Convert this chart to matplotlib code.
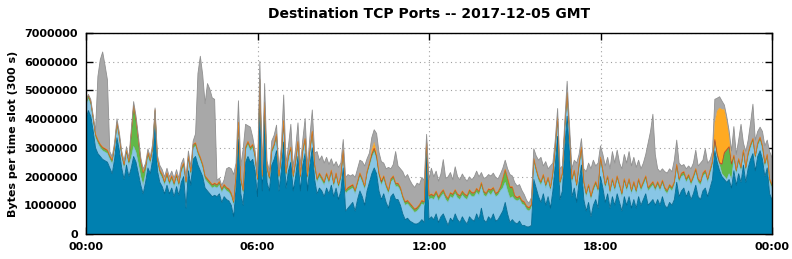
import numpy as np
import matplotlib

matplotlib.use('Agg')
import matplotlib.pyplot as plt
from matplotlib.ticker import FuncFormatter

# 5-minute slots over one day, values in millions of bytes per slot
# (one line per hour, 12 slots each, last line = 24:00)
dark_blue = [
    4.0, 4.3, 4.1, 3.6, 3.0, 2.8, 2.7, 2.6, 2.55, 2.5, 2.3, 2.1,
    2.6, 3.35, 2.9, 2.3, 1.9, 2.4, 2.0, 2.3, 2.7, 2.5, 2.1, 1.7,
    1.4, 1.8, 2.3, 2.1, 2.6, 3.85, 2.2, 1.8, 1.65, 1.4, 1.7, 1.4,
    1.6, 1.3, 1.65, 1.35, 1.8, 2.0, 0.9, 2.2, 1.7, 2.6, 2.7, 2.4,
    2.2, 2.0, 1.6, 1.5, 1.4, 1.3, 1.35, 1.3, 1.4, 1.1, 1.3, 1.2,
    1.15, 1.0, 0.6, 1.6, 3.3, 1.4, 1.0, 2.5, 2.7, 2.5, 2.6, 2.2,
    1.3, 4.9, 1.5, 4.2, 1.8, 1.5, 2.4, 2.6, 2.9, 1.5, 2.2, 3.2,
    1.6, 2.2, 2.5, 1.5, 2.0, 2.7, 1.5, 2.4, 2.8, 1.5, 2.4, 3.0,
    1.9, 1.4, 1.6, 1.5, 1.3, 1.6, 1.4, 1.7, 1.3, 1.6, 1.2, 1.5,
    2.3, 0.8, 0.9, 1.0, 1.1, 0.8, 1.2, 1.5, 1.3, 1.0, 1.5, 1.8,
    2.1, 2.3, 2.1, 1.5, 1.2, 1.4, 1.1, 0.9, 1.3, 1.4, 1.2, 1.2,
    1.0, 0.7, 0.5, 0.55, 0.45, 0.4, 0.35, 0.35, 0.4, 0.5, 0.4, 2.8,
    0.5, 0.6, 0.5, 0.7, 0.4, 0.6, 0.7, 0.5, 0.3, 0.55, 0.45, 0.7,
    0.5, 0.4, 0.6, 0.45, 0.35, 0.6, 0.5, 0.45, 0.7, 0.5, 0.9, 0.5,
    0.4, 0.6, 0.5, 0.7, 0.45, 0.5, 0.65, 0.8, 1.1, 0.7, 0.4, 0.5,
    0.4, 0.35, 0.45, 0.3, 0.3, 0.25, 0.25, 0.3, 1.9, 1.6, 1.3, 1.1,
    1.4, 1.0, 1.3, 0.9, 1.5, 2.4, 3.4, 1.2, 1.5, 3.0, 4.1, 2.8,
    1.3, 1.6, 1.1, 1.8, 2.4, 1.2, 0.8, 1.1, 0.6, 1.0, 1.2, 0.9,
    2.0, 1.6, 1.1, 1.4, 0.9, 1.3, 1.0, 1.4, 1.1, 0.8, 1.3, 1.0,
    1.3, 0.9, 1.2, 0.9, 1.3, 1.0, 1.2, 1.4, 1.0, 1.1, 1.2, 1.0,
    1.2, 1.0, 1.3, 1.0, 0.9, 1.1, 1.0, 1.2, 1.8, 1.3, 1.5, 1.6,
    1.3, 1.5, 1.2, 1.4, 1.7, 1.3, 1.2, 1.5, 1.6, 1.3, 1.6, 1.9,
    2.9, 2.5, 2.2, 2.0, 1.9, 1.8, 1.9, 1.6, 2.2, 1.7, 2.1, 1.8,
    2.4, 1.8, 2.3, 2.6, 2.8, 2.2, 2.7, 2.9, 2.6, 2.0, 2.3, 1.4,
    1.2,
]

light_blue = [
    0.45, 0.4, 0.4, 0.35, 0.35, 0.35, 0.3, 0.3, 0.3, 0.3, 0.3, 0.35,
    0.35, 0.4, 0.4, 0.35, 0.4, 0.4, 0.4, 0.35, 0.35, 0.35, 0.35, 0.3,
    0.3, 0.3, 0.4, 0.35, 0.3, 0.35, 0.3, 0.3, 0.3, 0.3, 0.3, 0.3,
    0.3, 0.35, 0.3, 0.3, 0.35, 0.35, 0.8, 0.4, 0.35, 0.4, 0.35, 0.35,
    0.35, 0.3, 0.3, 0.3, 0.3, 0.3, 0.3, 0.3, 0.3, 0.35, 0.3, 0.3,
    0.3, 0.3, 0.4, 0.35, 0.45, 0.4, 0.4, 0.4, 0.4, 0.4, 0.4, 0.4,
    0.5, 0.35, 0.4, 0.25, 0.4, 0.35, 0.4, 0.4, 0.45, 0.4, 0.4, 0.6,
    0.4, 0.4, 0.4, 0.4, 0.4, 0.4, 0.4, 0.4, 0.4, 0.4, 0.4, 0.45,
    0.4, 0.4, 0.4, 0.35, 0.4, 0.4, 0.35, 0.4, 0.35, 0.4, 0.4, 0.4,
    0.5, 0.6, 0.6, 0.55, 0.5, 0.6, 0.5, 0.5, 0.5, 0.55, 0.55, 0.55,
    0.55, 0.55, 0.5, 0.5, 0.5, 0.5, 0.5, 0.5, 0.5, 0.5, 0.45, 0.45,
    0.5, 0.5, 0.5, 0.5, 0.5, 0.45, 0.4, 0.45, 0.5, 0.55, 0.6, 0.4,
    0.7, 0.65, 0.7, 0.65, 0.75, 0.7, 0.7, 0.7, 0.8, 0.75, 0.8, 0.7,
    0.75, 0.8, 0.75, 0.8, 0.85, 0.8, 0.8, 0.85, 0.75, 0.85, 0.75, 0.85,
    0.9, 0.85, 0.85, 0.8, 0.85, 0.85, 0.85, 0.8, 0.7, 0.8, 0.85, 0.8,
    0.8, 0.8, 0.75, 0.75, 0.7, 0.6, 0.55, 0.6, 0.6, 0.55, 0.55, 0.6,
    0.55, 0.6, 0.55, 0.6, 0.5, 0.5, 0.6, 0.5, 0.5, 0.6, 0.7, 0.6,
    0.5, 0.5, 0.5, 0.5, 0.5, 0.5, 0.5, 0.5, 0.6, 0.5, 0.5, 0.55,
    0.55, 0.5, 0.5, 0.5, 0.5, 0.5, 0.5, 0.5, 0.5, 0.5, 0.5, 0.5,
    0.5, 0.5, 0.5, 0.5, 0.5, 0.5, 0.5, 0.5, 0.5, 0.5, 0.5, 0.5,
    0.5, 0.5, 0.45, 0.5, 0.5, 0.5, 0.5, 0.5, 0.5, 0.5, 0.5, 0.45,
    0.5, 0.45, 0.5, 0.5, 0.45, 0.5, 0.5, 0.5, 0.5, 0.5, 0.5, 0.5,
    0.3, 0.2, 0.2, 0.1, 0.1, 0.1, 0.2, 0.3, 0.4, 0.4, 0.4, 0.4,
    0.4, 0.4, 0.4, 0.4, 0.4, 0.4, 0.35, 0.35, 0.35, 0.35, 0.35, 0.4,
    0.4,
]

green = [
    0.08, 0.1, 0.08, 0.08, 0.08, 0.08, 0.08, 0.08, 0.08, 0.08, 0.08, 0.08,
    0.08, 0.1, 0.08, 0.08, 0.08, 0.08, 0.08, 0.8, 1.4, 1.1, 0.8, 0.5,
    0.4, 0.2, 0.1, 0.08, 0.08, 0.08, 0.08, 0.08, 0.08, 0.08, 0.08, 0.08,
    0.08, 0.08, 0.08, 0.08, 0.08, 0.08, 0.08, 0.08, 0.08, 0.08, 0.08, 0.08,
    0.08, 0.08, 0.08, 0.08, 0.08, 0.08, 0.08, 0.08, 0.08, 0.08, 0.08, 0.08,
    0.08, 0.08, 0.08, 0.08, 0.1, 0.08, 0.08, 0.08, 0.08, 0.08, 0.08, 0.08,
    0.08, 0.1, 0.08, 0.1, 0.08, 0.08, 0.08, 0.08, 0.08, 0.08, 0.08, 0.1,
    0.08, 0.08, 0.08, 0.08, 0.08, 0.08, 0.08, 0.08, 0.08, 0.08, 0.08, 0.08,
    0.08, 0.08, 0.08, 0.08, 0.08, 0.08, 0.08, 0.08, 0.08, 0.08, 0.08, 0.08,
    0.08, 0.08, 0.08, 0.08, 0.08, 0.08, 0.08, 0.08, 0.08, 0.08, 0.08, 0.08,
    0.1, 0.1, 0.08, 0.08, 0.08, 0.08, 0.08, 0.08, 0.08, 0.08, 0.08, 0.08,
    0.08, 0.08, 0.08, 0.08, 0.08, 0.08, 0.08, 0.08, 0.08, 0.08, 0.08, 0.08,
    0.1, 0.1, 0.1, 0.1, 0.1, 0.1, 0.1, 0.1, 0.1, 0.1, 0.1, 0.1,
    0.1, 0.1, 0.1, 0.1, 0.1, 0.1, 0.1, 0.1, 0.1, 0.1, 0.1, 0.1,
    0.08, 0.08, 0.15, 0.08, 0.08, 0.08, 0.1, 0.3, 0.4, 0.4, 0.35, 0.3,
    0.1, 0.08, 0.08, 0.08, 0.08, 0.08, 0.08, 0.08, 0.08, 0.08, 0.08, 0.08,
    0.08, 0.08, 0.08, 0.08, 0.08, 0.08, 0.08, 0.08, 0.08, 0.08, 0.08, 0.08,
    0.08, 0.08, 0.08, 0.08, 0.08, 0.08, 0.08, 0.08, 0.08, 0.08, 0.08, 0.08,
    0.08, 0.08, 0.08, 0.08, 0.08, 0.08, 0.08, 0.08, 0.08, 0.08, 0.08, 0.08,
    0.08, 0.08, 0.08, 0.08, 0.08, 0.08, 0.08, 0.08, 0.08, 0.08, 0.08, 0.08,
    0.08, 0.08, 0.08, 0.08, 0.08, 0.08, 0.08, 0.08, 0.08, 0.08, 0.08, 0.08,
    0.08, 0.08, 0.08, 0.08, 0.08, 0.08, 0.08, 0.08, 0.08, 0.08, 0.08, 0.08,
    0.05, 0.05, 0.05, 0.3, 0.8, 1.0, 0.9, 0.5, 0.1, 0.08, 0.08, 0.08,
    0.08, 0.08, 0.08, 0.08, 0.08, 0.08, 0.08, 0.08, 0.08, 0.08, 0.08, 0.08,
    0.08,
]

red = [0.04] * 289

orange = [0.02] * 289
# 10:00 - 10:20 and the large block 22:00 - 22:35
orange_1000 = [0.15, 0.2, 0.12, 0.06, 0.08]
orange_2200 = [0.6, 1.5, 1.9, 1.9, 1.5, 1.0, 0.4, 0.1]

gray = [
    0.0, 0.0, 0.05, 0.05, 0.1, 2.2, 2.93, 3.3, 2.88, 2.43, 0.13, 0.1,
    0.1, 0.1, 0.1, 0.1, 0.1, 0.1, 0.1, 0.1, 0.1, 0.1, 0.1, 0.1,
    0.1, 0.1, 0.1, 0.1, 0.1, 0.05, 0.1, 0.15, 0.15, 0.15, 0.15, 0.15,
    0.15, 0.15, 0.15, 0.15, 0.15, 0.15, 0.15, 0.15, 0.15, 0.1, 0.3, 2.7,
    3.5, 3.1, 2.5, 3.3, 3.2, 3.0, 2.9, 0.13, 0.1, 0.1, 0.15, 0.63,
    0.73, 0.83, 0.93, 0.38, 0.73, 0.43, 1.43, 0.78, 0.53, 0.68, 0.23, 0.15,
    0.15, 0.6, 0.2, 0.63, 0.2, 0.2, 0.3, 0.3, 0.3, 0.2, 0.3, 0.88,
    0.3, 0.33, 0.78, 0.3, 0.43, 0.63, 0.33, 0.33, 0.68, 0.33, 0.43, 0.73,
    0.38, 0.93, 0.43, 0.73, 0.63, 0.53, 0.53, 0.38, 0.58, 0.38, 0.58, 0.43,
    0.35, 0.43, 0.43, 0.33, 0.33, 0.43, 0.43, 0.43, 0.58, 0.68, 0.43, 0.33,
    0.42, 0.44, 0.66, 0.67, 0.62, 0.43, 0.53, 0.78, 0.33, 0.38, 1.08, 0.58,
    0.63, 0.83, 0.83, 0.88, 0.78, 0.73, 0.73, 0.83, 0.68, 0.78, 0.73, 0.13,
    0.53, 0.88, 0.63, 0.68, 0.53, 0.63, 1.03, 0.58, 0.73, 0.68, 0.48, 0.78,
    0.58, 0.53, 0.58, 0.53, 0.48, 0.43, 0.43, 0.53, 0.58, 0.48, 0.33, 0.43,
    0.53, 0.48, 0.46, 0.48, 0.53, 0.43, 0.43, 0.33, 0.31, 0.31, 0.41, 0.36,
    0.43, 0.38, 0.38, 0.33, 0.23, 0.18, 0.13, 0.23, 0.33, 0.43, 0.58, 0.83,
    0.28, 0.78, 0.28, 0.73, 0.33, 0.23, 0.23, 0.43, 0.23, 0.18, 0.38, 0.23,
    0.33, 0.33, 0.73, 0.33, 0.28, 0.43, 0.73, 0.73, 0.93, 0.93, 0.53, 0.88,
    0.38, 0.53, 0.63, 0.63, 0.73, 0.93, 0.83, 0.88, 0.73, 0.83, 0.83, 0.83,
    0.93, 0.83, 0.83, 0.78, 0.63, 0.63, 0.63, 0.73, 1.53, 1.83, 2.33, 1.13,
    0.43, 0.53, 0.38, 0.53, 0.58, 0.53, 0.53, 0.73, 0.83, 0.53, 0.23, 0.23,
    0.33, 0.28, 0.43, 0.43, 0.63, 0.43, 0.63, 0.43, 0.73, 0.53, 0.33, 0.33,
    0.8, 0.44, 0.39, 0.29, 0.15, 0.15, 0.15, 0.35, 0.98, 0.53, 0.63, 1.48,
    0.23, 0.53, 0.43, 0.73, 1.18, 0.53, 0.38, 0.33, 0.48, 0.58, 0.48, 0.93,
    0.93,
]

orange[120:125] = orange_1000
orange[264:272] = orange_2200

hours = np.arange(len(dark_blue)) * 5 / 60.0

# (values, fill colour, outline colour, outline width)
layers = [
    (dark_blue, '#0080b0', '#006890', 0.6),
    (light_blue, '#88c6e6', '#78b8da', 0.4),
    (green, '#62b848', '#58a840', 0.4),
    (red, '#d04428', '#c04020', 0.5),
    (orange, '#ffaa22', '#e89a20', 0.3),
    (gray, '#a8a8a8', '#909090', 0.6),
]

plt.rcParams['font.family'] = 'DejaVu Sans'
plt.rcParams['font.weight'] = 'bold'

fig = plt.figure(figsize=(7.92, 2.59), dpi=100)
ax = fig.add_axes([86 / 792, 25 / 259, 686 / 792, 201 / 259])

base = np.zeros(len(hours))
for vals, face, edge, lw in layers:
    top = base + np.array(vals) * 1e6
    ax.fill_between(hours, base, top, facecolor=face, linewidth=0, zorder=2)
    ax.plot(hours, top, color=edge, linewidth=lw, zorder=3)
    base = top

ax.set_xlim(0, 24)
ax.set_ylim(0, 7e6)
ax.set_xticks([0, 6, 12, 18, 24])
ax.set_xticklabels(['00:00', '06:00', '12:00', '18:00', '00:00'])
ax.set_yticks(np.arange(0, 7.5e6, 1e6))
ax.yaxis.set_major_formatter(FuncFormatter(lambda v, p: '%d' % v))

ax.grid(True, color='#a0a0a0', linestyle=(0, (1, 3)), linewidth=0.8, zorder=0)
ax.set_axisbelow(True)
ax.tick_params(direction='in', length=5, width=1, top=True, right=True,
               labelsize=8, pad=6)
for lbl in ax.get_xticklabels() + ax.get_yticklabels():
    lbl.set_fontweight('bold')
for sp in ax.spines.values():
    sp.set_linewidth(1)
    sp.set_zorder(5)

ax.set_title('Destination TCP Ports -- 2017-12-05 GMT', fontsize=10,
             fontweight='bold', pad=11)
ax.set_ylabel('Bytes per time slot (300 s)', fontsize=8, fontweight='bold')

fig.savefig('out.png', dpi=100)
